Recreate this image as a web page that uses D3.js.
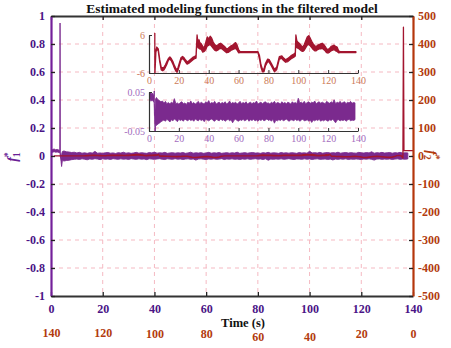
<!DOCTYPE html>
<html><head><meta charset="utf-8">
<script src="https://cdn.jsdelivr.net/npm/d3@7"></script>
<style>
html,body{margin:0;padding:0;background:#fff;}
text{font-family:"Liberation Serif","Times New Roman",serif;}
</style></head>
<body>
<svg id="c" width="451" height="348"></svg>
<script>
// ---------------- data ----------------
const xTicks = [0, 20, 40, 60, 80, 100, 120, 140];
const yLeftTicks = [-1, -0.8, -0.6, -0.4, -0.2, 0, 0.2, 0.4, 0.6, 0.8, 1];
const yRightTicks = [-500, -400, -300, -200, -100, 0, 100, 200, 300, 400, 500];
const inset1YTicks = [-6, 6];
const inset2YTicks = [-0.05, 0.05];

// f1* (purple) : envelope (low / high) of the noisy estimate
const f1TimeEarly = [0, 0.6, 1.2, 1.8, 2.4, 3.0, 3.4, 3.5, 3.6, 3.9, 4.1, 4.4];
const f1HighEarly = [0.048, 0.046, 0.050, 0.044, 0.047, 0.043, 0.040, 0.95, 0.02, -0.01, 0.01, 0.032];
const f1LowEarly  = [0.030, 0.026, 0.031, 0.027, 0.029, 0.025, 0.024, 0.02, 0.0, -0.04, -0.075, -0.03];
const f1TimeLate = d3.range(5, 139, 1);
const f1HighLate = [
  36,30,28,25,27,
  22,26,20,23,19,24,21,33,20,22,
  19,23,25,20,22,18,24,21,27,20,
  23,19,22,26,20,24,21,19,25,22,
  28,20,23,21,26,19,22,24,20,23,
  21,25,19,22,27,20,23,21,24,19,
  22,26,20,23,21,25,19,22,24,20,
  23,21,27,19,22,24,20,23,25,21,
  22,19,24,21,26,20,23,22,19,25,
  21,23,20,24,22,19,25,21,23,20,
  34,22,24,21,26,20,23,25,21,24,
  22,27,20,23,25,21,24,22,20,26,
  23,21,25,22,30,20,24,22,26,21,
  23,25,20,24,22,26,21,23,22].map(v => v / 1000);
const f1LowLate = [
  -36,-32,-30,-26,-24,
  -22,-25,-20,-23,-27,-21,-24,-19,-22,-26,
  -20,-23,-21,-25,-19,-22,-24,-20,-23,-21,
  -25,-19,-22,-24,-20,-23,-21,-26,-20,-22,
  -24,-21,-19,-23,-25,-20,-22,-24,-19,-23,
  -21,-25,-22,-20,-24,-21,-29,-22,-20,-23,
  -25,-21,-23,-20,-24,-22,-19,-25,-21,-23,
  -20,-24,-22,-25,-21,-23,-20,-24,-22,-19,
  -23,-21,-25,-20,-30,-22,-24,-21,-23,-20,
  -24,-22,-19,-23,-25,-21,-22,-24,-20,-23,
  -21,-25,-22,-20,-24,-23,-21,-25,-22,-28,
  -22,-24,-21,-23,-20,-25,-22,-24,-21,-23,
  -25,-21,-23,-20,-24,-29,-22,-21,-24,-22,
  -23,-21,-25,-22,-20,-24,-22,-23,-21].map(v => v / 1000);

// f2* (red) : envelope (low / high)
const f2Time = [0,3.5,3.7,3.9,4.6,5.2,6.2,7.2,8.2,9,10,11,12,13,14,15,16,17,18,18.8,19.5,20.5,21.5,22.5,23.5,24.5,25.5,26.5,27.5,28.5,29.5,30.5,31.5,
  32.2,32.8,33.5,34,35,36,37,38,39,40,41,42,43,44,45,46,47,48,49,50,51,52,53,54,55,56,57,58,59,60,61,73,
  74,75,76,77,78,79.5,80.5,82,84,85.5,87.3,89,90,91.5,93,95,97,98,
  98.4,99,100,101,102,103,104,105,106,107,108,109,110,111,112,113,114,115,116,117,118,119,120,121,122,123,124,125,126,127,128,138.6];
const f2Low = [19,19,460,-7,0.5,1.6,1.0,-2.5,-5.0,-5.3,-5.0,-4.2,-3.2,-2.0,-1.6,-2.2,-3.2,-4.4,-5.4,-5.8,-5.0,-3.4,-1.8,-1.4,-1.9,-2.6,-3.2,-3.0,-2.6,-2.2,-1.8,-1.5,-1.3,
  5.6,2.0,1.8,1.6,1.5,0.6,0.8,1.4,2.5,2.8,3.0,2.4,1.8,1.2,1.0,1.2,1.6,1.8,1.6,1.2,0.8,0.4,0.5,0.8,1.2,1.4,1.6,1.8,1.2,0.4,0.45,0.45,
  -1.5,-4.2,-5.6,-5.6,-3.8,-2.4,-2.6,-3.8,-5.6,-5.0,-1.6,-1.4,-2.0,-2.6,-2.4,-1.6,-1.0,-0.6,
  5.6,2.0,1.8,1.4,1.0,0.8,1.2,2.0,2.8,3.0,2.6,2.0,1.4,1.0,1.0,1.4,1.6,1.6,1.8,1.4,1.0,0.4,0.3,0.6,1.0,1.2,1.4,1.0,0.8,0.4,0.45,0.45];
const f2High = [19,19,460,-7,1.0,2.2,1.6,-1.8,-4.2,-4.3,-4.2,-3.4,-2.4,-1.4,-0.9,-1.5,-2.4,-3.6,-4.6,-5.0,-4.2,-2.6,-1.1,-0.8,-1.2,-1.9,-2.5,-2.2,-1.8,-1.4,-1.0,-0.8,-0.5,
  6.0,3.8,4.5,3.6,3.2,2.4,2.0,3.6,5.4,4.8,5.6,5.0,3.8,3.0,2.6,2.8,3.2,3.4,3.0,2.6,2.2,1.6,1.8,2.2,2.6,2.8,3.2,3.6,2.8,1.4,0.75,0.75,
  -0.5,-3.4,-4.8,-4.8,-3.0,-1.6,-1.8,-3.0,-4.8,-4.2,-0.8,-0.6,-1.2,-1.8,-1.4,-0.6,0.0,0.4,
  6.0,4.2,3.6,3.2,2.6,2.2,3.0,4.2,5.4,5.8,5.0,4.0,3.2,2.6,2.4,2.8,3.0,3.2,3.4,3.0,2.4,1.6,1.4,1.8,2.4,2.6,2.8,2.4,2.2,1.0,0.75,0.75];

// ---------------- drawing ----------------
const PURPLE = "#7b2a8e", RED = "#a3152f";
const LEFTC = "#4a1486", RIGHTC = "#b23b0e";
const svg = d3.select("#c");

const x = d3.scaleLinear([0, 140], [51, 413]);
const xr = d3.scaleLinear([140, 0], [51, 413]);
const yL = d3.scaleLinear([-1, 1], [296, 16]);
const yR = d3.scaleLinear([-500, 500], [296, 16]);
const ix = d3.scaleLinear([0, 140], [149, 358]);
const iy1 = d3.scaleLinear([-6, 6], [73, 35]);
const iy2 = d3.scaleLinear([-0.05, 0.05], [131, 92]);

const f1 = f1TimeEarly.map((t, i) => ({t, lo: f1LowEarly[i], hi: f1HighEarly[i]}))
  .concat(f1TimeLate.map((t, i) => ({t, lo: f1LowLate[i], hi: f1HighLate[i]})));
const f2 = f2Time.map((t, i) => ({t, lo: f2Low[i], hi: f2High[i]}));

const defs = svg.append("defs");
function clip(id, x0, y0, w, h) {
  defs.append("clipPath").attr("id", id).append("rect").attr("x", x0).attr("y", y0).attr("width", w).attr("height", h);
}
clip("cm", 51, 16, 362, 280);
clip("c1", 149, 33, 212, 40);
clip("c2", 149, 91, 212, 40);

// grid
const grid = svg.append("g").attr("stroke", "#f5b9c2").attr("stroke-width", 1).attr("stroke-dasharray", "4,4");
grid.selectAll("line.v").data(xTicks.slice(1, -1)).join("line")
  .attr("x1", d => x(d)).attr("x2", d => x(d)).attr("y1", 16).attr("y2", 296);
grid.selectAll("line.h").data(yLeftTicks.slice(1, -1)).join("line")
  .attr("y1", d => yL(d)).attr("y2", d => yL(d)).attr("x1", 51).attr("x2", 413);

// main data
const gm = svg.append("g").attr("clip-path", "url(#cm)");
gm.append("path").datum(f1)
  .attr("d", d3.area().x(d => x(d.t)).y0(d => yL(d.lo)).y1(d => yL(d.hi)))
  .attr("fill", PURPLE).attr("stroke", PURPLE).attr("stroke-width", 0.9).attr("stroke-linejoin", "round");
gm.append("path").datum(f2)
  .attr("d", d3.area().x(d => xr(d.t)).y0(d => yR(d.lo)).y1(d => yR(d.hi)))
  .attr("fill", RED).attr("stroke", RED).attr("stroke-width", 1.3).attr("stroke-linejoin", "round");

// inset 1 (f2)
svg.append("g").attr("clip-path", "url(#c1)").append("path").datum(f2)
  .attr("d", d3.area().x(d => ix(d.t)).y0(d => iy1(d.lo)).y1(d => iy1(d.hi)))
  .attr("fill", RED).attr("stroke", RED).attr("stroke-width", 1.3).attr("stroke-linejoin", "round");
// inset 2 (f1)
svg.append("g").attr("clip-path", "url(#c2)").append("path").datum(f1)
  .attr("d", d3.area().x(d => ix(d.t)).y0(d => iy2(d.lo)).y1(d => iy2(d.hi)))
  .attr("fill", PURPLE).attr("stroke", PURPLE).attr("stroke-width", 0.8).attr("stroke-linejoin", "round");

function insetAxes(yScale, yVals, yBottom, col, fmt) {
  const gb = svg.append("g").attr("transform", `translate(0,${yBottom})`)
    .call(d3.axisBottom(ix).tickValues(xTicks).tickSize(-3).tickSizeOuter(0).tickPadding(4));
  const gl = svg.append("g").attr("transform", "translate(149,0)")
    .call(d3.axisLeft(yScale).tickValues(yVals).tickSize(-3).tickSizeOuter(0).tickPadding(4).tickFormat(fmt));
  [gb, gl].forEach(g => {
    g.select(".domain").attr("stroke", "#333").attr("stroke-width", 1.2);
    g.selectAll(".tick line").attr("stroke", "#333");
    g.selectAll("text").attr("fill", col).attr("font-size", 10).attr("font-family", "Liberation Serif");
  });
}
insetAxes(iy1, inset1YTicks, 73, "#cc7a58", d => String(d));
insetAxes(iy2, inset2YTicks, 131, "#a36cbe", d => String(d));

// main axes
const gTop = svg.append("g").attr("transform", "translate(0,16)")
  .call(d3.axisTop(x).tickValues(xTicks).tickSize(-4).tickSizeOuter(0).tickFormat(""));
const gBot = svg.append("g").attr("transform", "translate(0,296)")
  .call(d3.axisBottom(x).tickValues(xTicks).tickSize(-4).tickSizeOuter(0).tickPadding(8).tickFormat(d => String(d)));
const gBot2 = svg.append("g").attr("transform", "translate(0,296)")
  .call(d3.axisBottom(xr).tickValues(xTicks).tickSize(0).tickPadding(33).tickFormat(d => String(d)));
const gLeft = svg.append("g").attr("transform", "translate(51,0)")
  .call(d3.axisLeft(yL).tickValues(yLeftTicks).tickSize(-4).tickSizeOuter(0).tickPadding(6).tickFormat(d => String(d)));
const gRight = svg.append("g").attr("transform", "translate(413,0)")
  .call(d3.axisRight(yR).tickValues(yRightTicks).tickSize(-4).tickSizeOuter(0).tickPadding(5).tickFormat(d => String(d)));

[gTop, gBot].forEach(g => g.select(".domain").attr("stroke", "#333").attr("stroke-width", 2));
gBot2.select(".domain").remove();
// the lower (reversed) row sits slightly unevenly in the reference
gBot2.selectAll("text").attr("y", d => (d === 60 || d === 40) ? 36 : (d === 140 || d === 120) ? 32 : 33.5);
gLeft.select(".domain").attr("stroke", "#74209a").attr("stroke-width", 2.2);
gRight.select(".domain").attr("stroke", "#b5360c").attr("stroke-width", 2.2);
[gTop, gBot, gLeft, gRight].forEach(g => g.selectAll(".tick line").attr("stroke", "#222").attr("stroke-width", 1.3));
[gBot, gLeft].forEach(g => g.selectAll("text").attr("fill", LEFTC));
[gBot2, gRight].forEach(g => g.selectAll("text").attr("fill", RIGHTC));
[gBot, gBot2, gLeft, gRight].forEach(g => g.selectAll("text")
  .attr("font-size", 12).attr("font-weight", "bold").attr("font-family", "Liberation Serif"));

// titles
svg.append("text").attr("x", 232).attr("y", 13).attr("text-anchor", "middle")
  .attr("font-size", 13.5).attr("font-weight", "bold").attr("fill", "#111")
  .text("Estimated modeling functions in the filtered model");
svg.append("text").attr("x", 243).attr("y", 327).attr("text-anchor", "middle")
  .attr("font-size", 12.5).attr("font-weight", "bold").attr("fill", "#111").text("Time (s)");

function fLabel(cx, cy, rot, sub, col) {
  const t = svg.append("text").attr("transform", `translate(${cx},${cy}) rotate(${rot})`)
    .attr("text-anchor", "middle").attr("fill", col).attr("font-size", 14).attr("font-weight", "bold");
  t.append("tspan").attr("font-style", "italic").text("f");
  t.append("tspan").attr("font-size", 10).attr("dy", 3).text(sub);
  t.append("tspan").attr("font-size", 10).attr("dx", -5).attr("dy", -9).text("*");
}
fLabel(17, 157, -90, "1", "#6a1f96");
fLabel(427, 155, 90, "2", RIGHTC);
</script>
</body></html>
